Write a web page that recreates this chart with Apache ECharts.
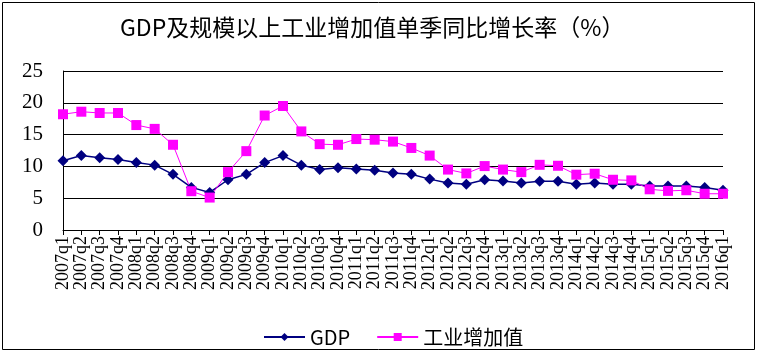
<!DOCTYPE html>
<html><head><meta charset="utf-8">
<script src="https://cdn.jsdelivr.net/npm/echarts@6/dist/echarts.min.js"></script>
<style>html,body{margin:0;padding:0;background:#fff}#c{width:758px;height:355px}</style>
</head><body><div id="c"></div>
<script>
const categories = ['2007q1','2007q2','2007q3','2007q4','2008q1','2008q2','2008q3','2008q4','2009q1','2009q2','2009q3','2009q4','2010q1','2010q2','2010q3','2010q4','2011q1','2011q2','2011q3','2011q4','2012q1','2012q2','2012q3','2012q4','2013q1','2013q2','2013q3','2013q4','2014q1','2014q2','2014q3','2014q4','2015q1','2015q2','2015q3','2015q4','2016q1'];
const gdp = [10.9,11.7,11.35,11.1,10.6,10.2,8.75,6.7,5.9,7.9,8.75,10.6,11.7,10.2,9.5,9.8,9.6,9.4,8.95,8.75,8.0,7.4,7.2,7.9,7.7,7.4,7.65,7.65,7.2,7.4,7.2,7.2,6.9,6.9,6.9,6.7,6.25];
const industry = [18.2,18.6,18.4,18.4,16.5,15.9,13.4,6.1,5.1,9.1,12.4,18.0,19.5,15.5,13.5,13.4,14.3,14.2,13.9,12.9,11.7,9.5,8.9,10.05,9.5,9.1,10.25,10.1,8.7,8.85,7.9,7.8,6.4,6.15,6.25,5.7,5.7];
const yTicks = [0,5,10,15,20,25];
const titleText = 'GDP及规模以上工业增加值单季同比增长率（%）';
const seriesNames = ['GDP','工业增加值'];

const chart = echarts.init(document.getElementById('c'));
chart.setOption({
  animation:false,
  backgroundColor:'#fff',
  title:{text:titleText,left:115,top:11,textStyle:{fontFamily:'Noto Sans CJK SC',fontSize:23,fontWeight:'normal',color:'#000'}},
  graphic:[{type:'rect',shape:{x:2.5,y:2.5,width:752,height:347},style:{fill:'none',stroke:'#000',lineWidth:1},silent:true}],
  legend:{left:258,top:322,itemWidth:41,itemHeight:10,itemGap:26,
    textStyle:{fontFamily:'Noto Sans CJK SC',fontSize:20,color:'#000'},
    data:seriesNames},
  grid:{left:63,right:35,top:71,bottom:125,containLabel:false},
  xAxis:{type:'category',data:categories,boundaryGap:false,
    axisLine:{lineStyle:{color:'#000',width:1}},
    axisTick:{show:true,length:5,alignWithLabel:true,lineStyle:{color:'#000'}},
    axisLabel:{rotate:90,interval:0,margin:6,fontFamily:'Liberation Serif',fontSize:18,color:'#000'},
    splitLine:{show:false}},
  yAxis:{type:'value',min:yTicks[0],max:yTicks[yTicks.length-1],interval:5,
    axisLine:{show:true,lineStyle:{color:'#000'}},axisTick:{show:false},
    axisLabel:{margin:20,fontFamily:'Liberation Serif',fontSize:21,color:'#000'},
    splitLine:{lineStyle:{color:'#000',width:1}}},
  series:[
    {name:seriesNames[0],type:'line',data:gdp,symbol:'diamond',symbolSize:11,
     itemStyle:{color:'#000080'},lineStyle:{color:'#000080',width:1.5}},
    {name:seriesNames[1],type:'line',data:industry,symbol:'rect',symbolSize:10,
     itemStyle:{color:'#FF00FF'},lineStyle:{color:'#FF00FF',width:1}}
  ]
});
</script></body></html>
